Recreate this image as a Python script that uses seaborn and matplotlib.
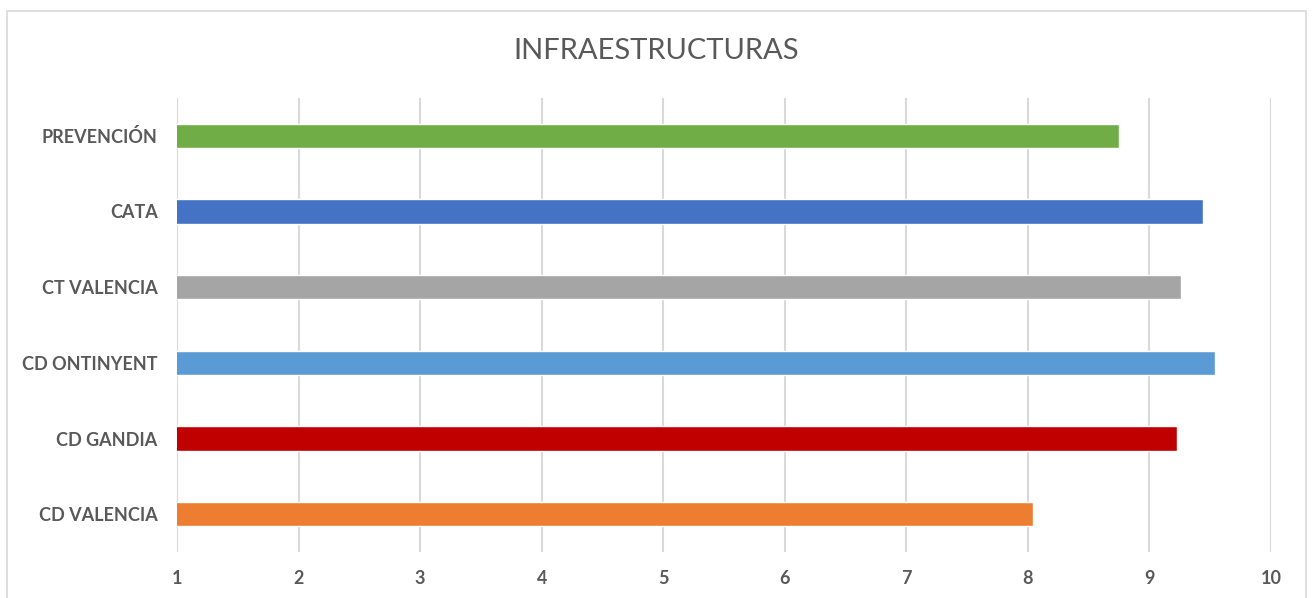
import seaborn as sns
import matplotlib.pyplot as plt
import pandas as pd

# datos (de arriba a abajo)
centros = ['PREVENCIÓN', 'CATA', 'CT VALENCIA', 'CD ONTINYENT', 'CD GANDIA', 'CD VALENCIA']
valores = [8.75, 9.44, 9.26, 9.54, 9.23, 8.04]
colores = ['#70AD47', '#4472C4', '#A5A5A5', '#5B9BD5', '#C00000', '#ED7D31']
ticks_x = [1, 2, 3, 4, 5, 6, 7, 8, 9, 10]

df = pd.DataFrame({'centro': centros, 'valor': valores})

sns.set_style('white')
plt.rcParams['font.family'] = ['Lato', 'DejaVu Sans']

fig = plt.figure(figsize=(13.13, 5.98), dpi=100)
ax = fig.add_axes([177 / 1313, 1 - 552 / 598, (1271 - 177) / 1313, (552 - 98) / 598])

sns.barplot(data=df, x='valor', y='centro', hue='centro', order=centros,
            palette=dict(zip(centros, colores)), orient='h', width=0.32,
            legend=False, ax=ax, saturation=1)

ax.set_xlim(1, 10)
ax.set_ylim(5.5, -0.5)
ax.set_xticks(ticks_x)
ax.set_xticklabels([str(t) for t in ticks_x])
ax.set_xlabel('')
ax.set_ylabel('')
ax.grid(True, axis='x', color='#D9D9D9', linewidth=1.5)
ax.set_axisbelow(True)
for s in ax.spines.values():
    s.set_visible(False)
ax.tick_params(axis='both', length=0, colors='#595959', labelsize=13)
ax.tick_params(axis='x', pad=13)
ax.tick_params(axis='y', pad=14)
for lab in ax.get_xticklabels() + ax.get_yticklabels():
    lab.set_fontweight('bold')

fig.text(0.5, 1 - 51 / 598, 'INFRAESTRUCTURAS', ha='center', va='center',
         fontsize=21, color='#595959', fontweight='normal')

# marco del gráfico
marco = plt.Rectangle((7 / 1313, -0.1), (1306 - 7) / 1313, 1.1 - 11 / 598,
                      transform=fig.transFigure, fill=False,
                      edgecolor='#D9D9D9', linewidth=1.2)
fig.patches.append(marco)

fig.savefig('out.png', dpi=100)
